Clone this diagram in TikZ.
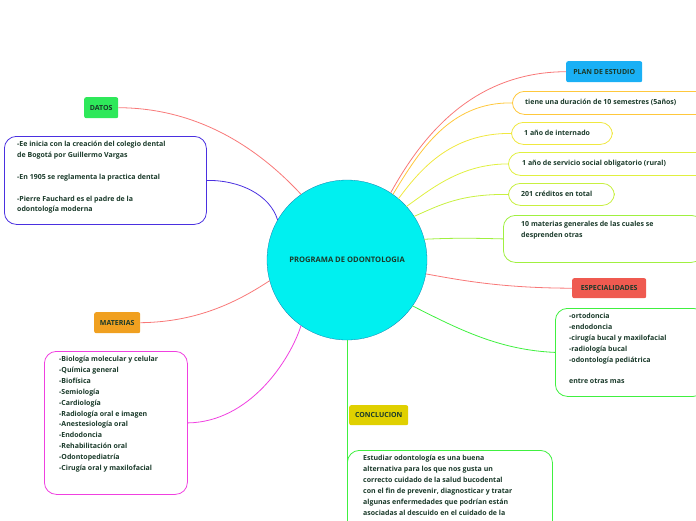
\documentclass[tikz,border=0pt]{standalone}
\usepackage{fontspec}
\setmainfont{Open Sans}
\definecolor{txt}{HTML}{1A3A2A}
\definecolor{cdatos}{HTML}{2EE85A}
\definecolor{cblue}{HTML}{4A30E0}
\definecolor{cplan}{HTML}{1AB0F5}
\definecolor{corange}{HTML}{FFC83C}
\definecolor{cy1}{HTML}{F0E840}
\definecolor{cy2}{HTML}{E0F040}
\definecolor{cy3}{HTML}{C8F040}
\definecolor{cy4}{HTML}{A0F040}
\definecolor{cesp}{HTML}{EF5A50}
\definecolor{cgreen}{HTML}{40F040}
\definecolor{cconc}{HTML}{E0D000}
\definecolor{cmat}{HTML}{F0A020}
\definecolor{cmag}{HTML}{F040E0}
\definecolor{cred}{HTML}{F87878}
\definecolor{ccirc}{HTML}{00F0F0}
\begin{document}
\begin{tikzpicture}[x=1pt,y=-1pt,
  every node/.style={font=\fontsize{7}{10.9}\selectfont\bfseries, text=txt},
  tag/.style={rounded corners=2pt, inner sep=0pt, anchor=north west},
  box/.style={draw, rounded corners=12pt, thick, fill=white, inner sep=0pt, anchor=north west},
  con/.style={line width=0.8pt}]
\useasboundingbox (0,0) rectangle (696,520);
\node[circle, fill=ccirc, draw=cplan!70!black, line width=0.3pt, minimum size=160pt, inner sep=0pt, font=\fontsize{7.6}{10}\selectfont\bfseries] (c) at (347,260) {PROGRAMA DE ODONTOLOGIA};

\node[tag, fill=cdatos, minimum width=34pt, minimum height=21pt] (datos) at (84,97) {DATOS};
\node[box, draw=cblue, minimum width=202pt, minimum height=88pt] (hist) at (4,136) {};
\node[anchor=north west, align=left, inner sep=0pt] at (17,141) {-Ee inicia con la creación del colegio dental\\de Bogotá por Guillermo Vargas\\[10.9pt]-En 1905 se reglamenta la practica dental\\[10.9pt]-Pierre Fauchard es el padre de la\\odontología moderna};

\node[tag, fill=cplan, minimum width=76pt, minimum height=21pt] (plan) at (566,61) {PLAN DE ESTUDIO};
\node[box, draw=corange, minimum width=200pt, minimum height=23pt] (dur) at (512,91) {};
\node[anchor=west, inner sep=0pt] at (525,102.5) {tiene una duración de 10 semestres (5años)};
\node[box, draw=cy1, minimum width=101pt, minimum height=22pt] (int) at (511,122) {};
\node[anchor=west, inner sep=0pt] at (524,133) {1 año de internado};
\node[box, draw=cy2, minimum width=200pt, minimum height=23pt] (serv) at (508,152) {};
\node[anchor=west, inner sep=0pt] at (522,163.5) {1 año de servicio social obligatorio (rural)};
\node[box, draw=cy3, minimum width=106pt, minimum height=22pt] (cred) at (508,183) {};
\node[anchor=west, inner sep=0pt] at (521,194) {201 créditos en total};
\node[box, draw=cy4, minimum width=200pt, minimum height=47pt] (mat10) at (503,215) {};
\node[anchor=north west, align=left, inner sep=0pt] at (521,221) {10 materias generales de las cuales se\\desprenden otras};

\node[tag, fill=cesp, minimum width=74pt, minimum height=20pt] (esp) at (572,278) {ESPECIALIDADES};
\node[box, draw=cgreen, minimum width=150pt, minimum height=88pt] (espl) at (555,308) {};
\node[anchor=north west, align=left, inner sep=0pt] at (569,313) {-ortodoncia\\-endodoncia\\-cirugía bucal y maxilofacial\\-radiología bucal\\-odontología pediátrica\\[10.9pt]entre otras mas};

\node[tag, fill=cconc, minimum width=59pt, minimum height=20pt] (conc) at (349,405) {CONCLUCION};
\node[box, draw=cgreen, minimum width=205pt, minimum height=90pt] (concl) at (347,450) {};
\node[anchor=north west, align=left, inner sep=0pt] at (363,455) {Estudiar odontología es una buena\\alternativa para los que nos gusta un\\correcto cuidado de la salud bucodental\\con el fin de prevenir, diagnosticar y tratar\\algunas enfermedades que podrían están\\asociadas al descuido en el cuidado de la};

\node[tag, fill=cmat, minimum width=46pt, minimum height=21pt] (mat) at (94,312) {MATERIAS};
\node[box, draw=cmag, minimum width=143pt, minimum height=143pt] (matl) at (44,351) {};
\node[anchor=north west, align=left, inner sep=0pt] at (59,356) {-Biología molecular y celular\\-Química general\\-Biofísica\\-Semiología\\-Cardiología\\-Radiología oral e imagen\\-Anestesiología oral\\-Endodoncia\\-Rehabilitación oral\\-Odontopediatría\\-Cirugía oral y maxilofacial};

\coordinate (cbot) at (347,490);
\begin{scope}[on background layer/.try]
\draw[con, cred] (datos.east) .. controls (200,108) and (260,150) .. (c.125);
\draw[con, cblue] (hist.east) .. controls (240,180) and (270,195) .. (c.150);
\draw[con, cred] (plan.west) .. controls (470,72) and (420,140) .. (c.57);
\draw[con, corange] (dur.west) .. controls (450,102) and (420,150) .. (c.55);
\draw[con, cy1] (int.west) .. controls (450,133) and (420,170) .. (c.50);
\draw[con, cy2] (serv.west) .. controls (460,164) and (430,190) .. (c.42);
\draw[con, cy3] (cred.west) .. controls (460,194) and (440,205) .. (c.33);
\draw[con, cy4] (mat10.west) .. controls (470,238) and (450,238) .. (c.15);
\draw[con, cred] (esp.west) .. controls (500,288) and (460,280) .. (c.-10);
\draw[con, cgreen] (espl.west) .. controls (500,350) and (460,330) .. (c.-35);
\draw[con, cgreen] (c.south) -- (cbot);
\draw[con, cred] (mat.east) .. controls (200,322) and (240,300) .. (c.195);
\draw[con, cmag] (matl.east) .. controls (250,422) and (290,360) .. (c.235);
\end{scope}
\end{tikzpicture}
\end{document}
